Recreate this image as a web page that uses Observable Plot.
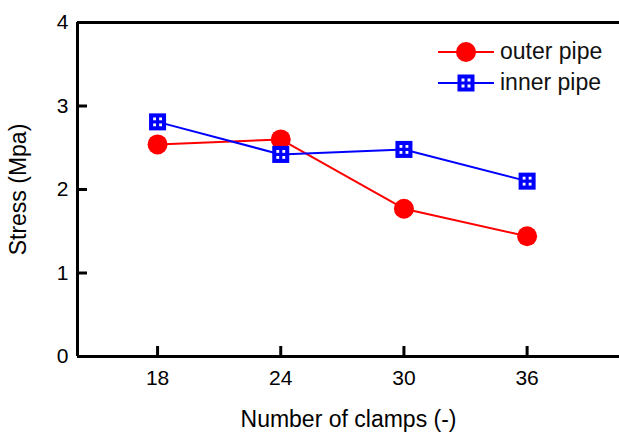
<!DOCTYPE html>
<html>
<head>
<meta charset="utf-8">
<script src="https://cdn.jsdelivr.net/npm/d3@7"></script>
<script src="https://cdn.jsdelivr.net/npm/@observablehq/plot@0.6"></script>
<style>
  html, body { margin: 0; padding: 0; background: #fff; }
  #wrap { position: relative; width: 619px; height: 434px; font-family: "Liberation Sans", Arial, sans-serif; }
  #legend { position: absolute; left: 438px; top: 36px; font-size: 23px; color: #111; }
  #legend .item { display: flex; align-items: center; height: 31px; }
  #legend svg { margin-right: 6px; }
</style>
</head>
<body>
<div id="wrap"><div id="legend"></div></div>
<script>
const clamps = [18, 24, 30, 36];
const outerPipe = [2.54, 2.60, 1.77, 1.44];
const innerPipe = [2.81, 2.42, 2.48, 2.10];
const xTicks = [18, 24, 30, 36];
const yTicks = [0, 1, 2, 3, 4];
const xDomain = [14.1, 40.5];
const yDomain = [0, 4];
const seriesNames = ["outer pipe", "inner pipe"];

const W = 619, H = 434, ML = 77, MR = 0, MT = 22, MB = 78, TICK = 10;
const outerData = clamps.map((c, i) => ({x: c, y: outerPipe[i]}));
const innerData = clamps.map((c, i) => ({x: c, y: innerPipe[i]}));
const RED = "#ff0000", BLUE = "#0000ff";
const dotOffsets = [[-3, -3], [3, -3], [-3, 3], [3, 3]];
const FONT = '"Liberation Sans", Arial, sans-serif';

const chart = Plot.plot({
  width: W,
  height: H,
  marginLeft: ML,
  marginRight: MR,
  marginTop: MT,
  marginBottom: MB,
  style: {fontFamily: FONT, fontSize: "21px", color: "#000", background: "white", overflow: "visible"},
  x: {domain: xDomain, label: null},
  y: {domain: yDomain, label: null},
  marks: [
    Plot.ruleY([yDomain[0]], {stroke: "#000", strokeWidth: 3}),
    Plot.ruleY([yDomain[1]], {stroke: "#000", strokeWidth: 3}),
    Plot.ruleX([xDomain[0]], {stroke: "#000", strokeWidth: 3}),
    Plot.tickX(xTicks, {x: d => d, stroke: "#000", strokeWidth: 3, insetTop: H - MT - MB - TICK}),
    Plot.tickY(yTicks, {y: d => d, stroke: "#000", strokeWidth: 3, insetRight: W - ML - MR - TICK}),
    Plot.axisX({ticks: xTicks, tickSize: 0, tickPadding: 14, fontSize: 21, label: null, tickFormat: d3.format("d")}),
    Plot.axisY({ticks: yTicks, tickSize: 0, tickPadding: 9, fontSize: 21, label: null, tickFormat: d3.format("d")}),
    Plot.axisX({ticks: [], tickSize: 0, fontSize: 23, label: "Number of clamps (-)", labelAnchor: "center", labelArrow: "none", labelOffset: 70}),
    Plot.axisY({ticks: [], tickSize: 0, fontSize: 23, label: "Stress (Mpa)", labelAnchor: "center", labelArrow: "none", labelOffset: 68}),
    Plot.line(outerData, {x: "x", y: "y", stroke: RED, strokeWidth: 2}),
    Plot.line(innerData, {x: "x", y: "y", stroke: BLUE, strokeWidth: 2}),
    Plot.dot(outerData, {x: "x", y: "y", r: 10, fill: RED, stroke: "none"}),
    Plot.dot(innerData, {x: "x", y: "y", symbol: "square", r: 9.6, fill: BLUE, stroke: "none"}),
    ...dotOffsets.map(([dx, dy]) => Plot.dot(innerData, {x: "x", y: "y", symbol: "square", r: 1.6, fill: "white", stroke: "none", dx, dy}))
  ]
});
document.getElementById("wrap").insertBefore(chart, document.getElementById("legend"));

const legendHTML = [
  `<div class="item"><svg width="56" height="24"><line x1="0" y1="12" x2="56" y2="12" stroke="${RED}" stroke-width="2"/><circle cx="28" cy="12" r="10" fill="${RED}"/></svg><span>${seriesNames[0]}</span></div>`,
  `<div class="item"><svg width="56" height="24"><line x1="0" y1="12" x2="56" y2="12" stroke="${BLUE}" stroke-width="2"/><rect x="19.5" y="3.5" width="17" height="17" fill="${BLUE}"/>` +
    dotOffsets.map(([dx, dy]) => `<rect x="${28 + dx - 1.5}" y="${12 + dy - 1.5}" width="3" height="3" fill="white"/>`).join("") +
    `</svg><span>${seriesNames[1]}</span></div>`
];
document.getElementById("legend").innerHTML = legendHTML.join("");
</script>
</body>
</html>
